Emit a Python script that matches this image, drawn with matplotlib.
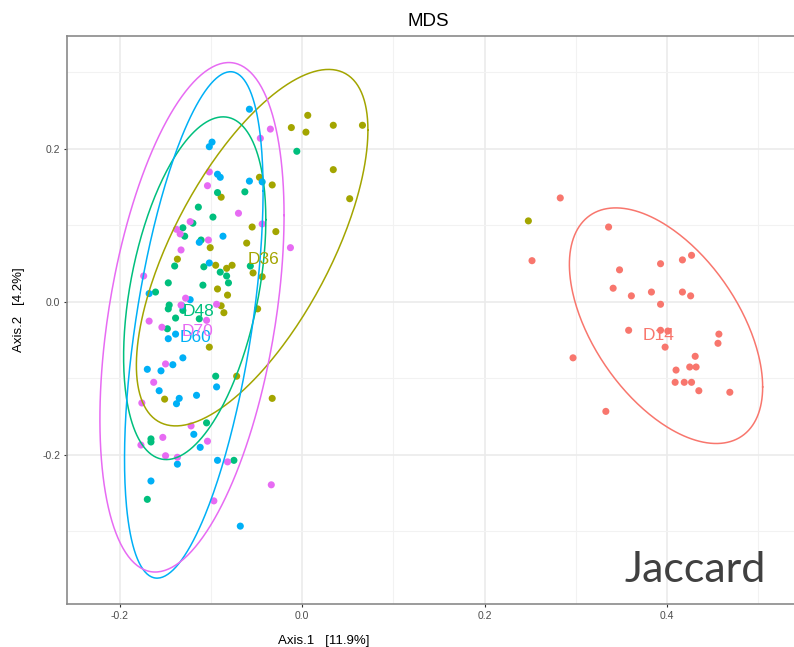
import matplotlib
matplotlib.use("Agg")
import matplotlib.pyplot as plt
import numpy as np

plt.rcParams['font.family'] = ['Liberation Sans', 'DejaVu Sans']

# groups and ggplot default hue colours
groups = ['D14', 'D36', 'D48', 'D60', 'D70']
colors = ['#F8766D', '#A3A500', '#00BF7D', '#00B0F6', '#E76BF3']

# Axis.1 / Axis.2 coordinates
d14_x = [0.283, 0.252, 0.336, 0.348, 0.393, 0.417, 0.427, 0.341, 0.361, 0.383,
         0.417, 0.426, 0.393, 0.358, 0.393, 0.401, 0.398, 0.457, 0.456, 0.431,
         0.425, 0.432, 0.410, 0.409, 0.419, 0.427, 0.435, 0.469, 0.297, 0.333]
d14_y = [0.136, 0.054, 0.098, 0.042, 0.050, 0.055, 0.061, 0.018, 0.008, 0.013,
         0.013, 0.008, -0.003, -0.037, -0.037, -0.038, -0.059, -0.042, -0.054, -0.071,
         -0.085, -0.085, -0.089, -0.105, -0.105, -0.105, -0.116, -0.118, -0.073, -0.143]

d36_x = [-0.012, 0.004, 0.006, 0.034, 0.066, 0.034, 0.052, -0.047, -0.089, -0.033,
         -0.055, -0.029, -0.061, -0.101, -0.137, -0.095, -0.083, -0.077, -0.054, -0.044,
         -0.093, -0.082, -0.089, -0.086, -0.049, -0.102, -0.072, -0.033, -0.151, 0.248]
d36_y = [0.228, 0.222, 0.244, 0.231, 0.231, 0.173, 0.135, 0.163, 0.137, 0.153,
         0.098, 0.092, 0.077, 0.071, 0.056, 0.048, 0.044, 0.048, 0.038, 0.033,
         0.017, 0.009, -0.005, -0.014, -0.009, -0.059, -0.097, -0.126, -0.127, 0.106]

d48_x = [-0.006, -0.093, -0.063, -0.114, -0.098, -0.120, -0.131, -0.129, -0.111, -0.140,
         -0.108, -0.090, -0.083, -0.081, -0.057, -0.147, -0.109, -0.161, -0.146, -0.147,
         -0.131, -0.139, -0.113, -0.148, -0.095, -0.105, -0.166, -0.166, -0.075, -0.170]
d48_y = [0.197, 0.143, 0.144, 0.124, 0.111, 0.103, 0.097, 0.086, 0.081, 0.047,
         0.046, 0.039, 0.034, 0.025, 0.047, 0.025, 0.022, 0.013, -0.004, -0.009,
         -0.011, -0.021, -0.022, -0.035, -0.097, -0.158, -0.179, -0.183, -0.207, -0.258]

d60_x = [-0.058, -0.102, -0.099, -0.093, -0.090, -0.058, -0.044, -0.087, -0.113, -0.102,
         -0.123, -0.132, -0.139, -0.147, -0.131, -0.142, -0.170, -0.155, -0.094, -0.157,
         -0.135, -0.116, -0.138, -0.119, -0.112, -0.137, -0.093, -0.166, -0.068, -0.168]
d60_y = [0.252, 0.203, 0.209, 0.167, 0.163, 0.158, 0.157, 0.086, 0.078, 0.051,
         0.003, -0.005, -0.042, -0.048, -0.073, -0.082, -0.088, -0.090, -0.111, -0.116,
         -0.126, -0.122, -0.133, -0.173, -0.190, -0.212, -0.207, -0.234, -0.293, 0.011]

d70_x = [-0.035, -0.046, -0.102, -0.104, -0.070, -0.123, -0.044, -0.138, -0.134, -0.103,
         -0.133, -0.013, -0.174, -0.128, -0.133, -0.094, -0.105, -0.168, -0.154, -0.150,
         -0.163, -0.176, -0.122, -0.153, -0.177, -0.104, -0.150, -0.137, -0.082, -0.097,
         -0.034]
d70_y = [0.226, 0.214, 0.170, 0.152, 0.116, 0.105, 0.102, 0.095, 0.089, 0.081,
         0.068, 0.071, 0.034, 0.005, -0.004, -0.003, -0.024, -0.025, -0.033, -0.081,
         -0.105, -0.132, -0.162, -0.177, -0.187, -0.182, -0.201, -0.203, -0.209, -0.260,
         -0.239]

xs = [d14_x, d36_x, d48_x, d60_x, d70_x]
ys = [d14_y, d36_y, d48_y, d60_y, d70_y]

# group label positions
label_x = [0.391, -0.043, -0.114, -0.117, -0.115]
label_y = [-0.044, 0.055, -0.013, -0.046, -0.039]

# 95% ellipses: centre, half range in x, half range in y, cos of phase shift
ell_cx = [0.399, -0.055, -0.118, -0.119, -0.121]
ell_cy = [-0.031, 0.071, 0.018, -0.030, -0.020]
ell_ax = [0.106, 0.127, 0.078, 0.076, 0.101]
ell_ay = [0.154, 0.233, 0.224, 0.331, 0.333]
ell_c = [-0.52, 0.66, 0.40, 0.53, 0.40]

fig = plt.figure(figsize=(7.94, 6.47), dpi=100)
ax = fig.add_axes([67 / 794, 43 / 647, 790 / 794, 568 / 647])

for gx, gy, col in zip(xs, ys, colors):
    ax.scatter(gx, gy, s=26, color=col, edgecolors='none', zorder=3)

t = np.linspace(0, 2 * np.pi, 300)
for cx, cy, a, b, c, col in zip(ell_cx, ell_cy, ell_ax, ell_ay, ell_c, colors):
    d = np.arccos(c)
    ax.plot(cx + a * np.cos(t), cy + b * np.cos(t - d), color=col, lw=1.1, zorder=4)

for lx, ly, g, col in zip(label_x, label_y, groups, colors):
    ax.text(lx, ly, g, color=col, fontsize=12.5, ha='center', va='center', zorder=5)

ax.set_xlim(-0.2581, 0.6085)
ax.set_ylim(-0.3948, 0.3477)
ax.set_xticks([-0.2, 0.0, 0.2, 0.4])
ax.set_xticklabels(['-0.2', '0.0', '0.2', '0.4'])
ax.set_yticks([-0.2, 0.0, 0.2])
ax.set_yticklabels(['-0.2', '0.0', '0.2'])
ax.set_xticks([-0.1, 0.1, 0.3, 0.5], minor=True)
ax.set_yticks([-0.3, -0.1, 0.1, 0.3], minor=True)
ax.grid(True, which='major', color='#EBEBEB', lw=1.2, zorder=0)
ax.grid(True, which='minor', color='#F2F2F2', lw=0.8, zorder=0)
ax.set_axisbelow(True)
ax.tick_params(which='major', length=2.5, width=0.8, color='#333333',
               labelsize=7.5, labelcolor='#4D4D4D', pad=2.5)
ax.tick_params(which='minor', length=0)
for sp in ax.spines.values():
    sp.set_color('#8A8A8A')
    sp.set_linewidth(1.2)

fig.text(428 / 794, 1 - 26 / 647, 'MDS', fontsize=13.5, ha='center', va='baseline')
fig.text(324 / 794, 1 - 644 / 647, 'Axis.1   [11.9%]', fontsize=9.5, ha='center', va='baseline')
fig.text(19.5 / 794, 1 - 310 / 647, 'Axis.2   [4.2%]', fontsize=9.5, rotation=90,
         ha='center', va='center')
fig.text(695 / 794, 1 - 582 / 647, 'Jaccard', fontsize=31, color='#404040',
         family=['Lato', 'DejaVu Sans'], ha='center', va='baseline')

fig.savefig('out.png', dpi=100)
